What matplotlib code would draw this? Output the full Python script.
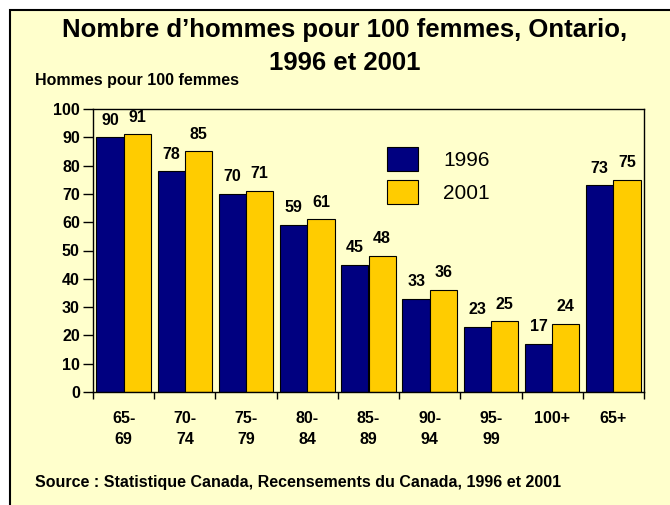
import numpy as np
import matplotlib
matplotlib.use('Agg')
import matplotlib.pyplot as plt
from matplotlib.patches import Rectangle

plt.rcParams['font.family'] = ['Liberation Sans', 'DejaVu Sans']

groupes = ['65-\n69', '70-\n74', '75-\n79', '80-\n84', '85-\n89', '90-\n94', '95-\n99', '100+', '65+']
h1996 = [90, 78, 70, 59, 45, 33, 23, 17, 73]
h2001 = [91, 85, 71, 61, 48, 36, 25, 24, 75]

fond = '#FFFFCC'
bleu = '#000080'
jaune = '#FFCC00'
taille = 11.5

fig = plt.figure(figsize=(6.7, 5.05), dpi=100)
fig.patch.set_facecolor('white')
fig.patches.append(Rectangle((10 / 670, -0.05), 1.0, (495 / 505) + 0.05, transform=fig.transFigure,
                             facecolor=fond, edgecolor='black', linewidth=1.5, zorder=-10))

ax = fig.add_axes([93 / 670, 113 / 505, 551 / 670, 283 / 505])
ax.set_facecolor(fond)

x = np.arange(len(groupes))
w = 0.445
b1 = ax.bar(x - w / 2, h1996, w, color=bleu, edgecolor='black', linewidth=0.8, label='1996')
b2 = ax.bar(x + w / 2, h2001, w, color=jaune, edgecolor='black', linewidth=0.8, label='2001')

for bars, vals in ((b1, h1996), (b2, h2001)):
    for r, v in zip(bars, vals):
        ax.annotate(str(v), (r.get_x() + r.get_width() / 2, v), xytext=(0, 7), textcoords='offset points',
                    ha='center', va='bottom', fontsize=taille, fontweight='bold')

ax.set_xlim(-0.5, len(groupes) - 0.5)
ax.set_ylim(0, 100)
ax.set_yticks(range(0, 101, 10))
ax.tick_params(axis='y', direction='out', length=7, width=1, labelsize=taille, pad=2.5)
for lab in ax.get_yticklabels():
    lab.set_fontweight('bold')

ax.set_xticks(x)
ax.set_xticklabels(groupes, fontsize=taille, fontweight='bold', va='top', linespacing=1.45)
ax.tick_params(axis='x', which='major', length=0, pad=14)
ax.set_xticks(np.arange(-0.5, len(groupes)), minor=True)
ax.tick_params(axis='x', which='minor', direction='out', length=5, width=1)
for s in ax.spines.values():
    s.set_linewidth(1)

ax.legend(loc='upper left', bbox_to_anchor=(0.534, 0.865), frameon=False, fontsize=15,
          handlelength=1.5, handleheight=1.4, handletextpad=1.2, labelspacing=0.4,
          borderpad=0, borderaxespad=0)

fig.text(0.515, 1 - 37 / 505, 'Nombre d\u2019hommes pour 100 femmes, Ontario,', ha='center', va='baseline',
         fontsize=18.5, fontweight='bold')
fig.text(0.515, 1 - 70 / 505, '1996 et 2001', ha='center', va='baseline',
         fontsize=18.5, fontweight='bold')
fig.text(35 / 670, 1 - 85 / 505, 'Hommes pour 100 femmes', ha='left', va='baseline', fontsize=taille, fontweight='bold')
fig.text(35 / 670, 1 - 482 / 505, 'Source : Statistique Canada, Recensements du Canada, 1996 et 2001',
         ha='left', va='center', fontsize=taille, fontweight='bold')

fig.savefig('out.png', dpi=100, facecolor=fig.get_facecolor())
